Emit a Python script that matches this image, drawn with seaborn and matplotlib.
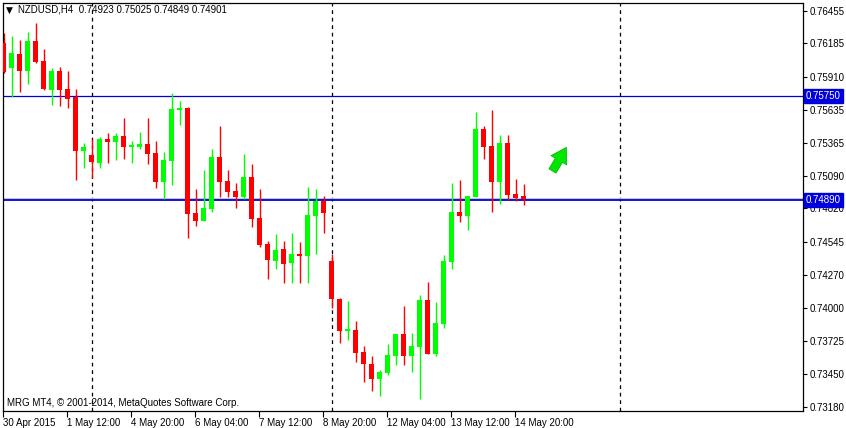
import numpy as np
import pandas as pd
import matplotlib
matplotlib.use("Agg")
import matplotlib.pyplot as plt
import seaborn as sns

# ── data: NZDUSD H4 candles ──────────────────────────────────────────────────
opens = [0.76190, 0.75984, 0.76099, 0.75959, 0.76207, 0.76041, 0.75802, 0.75959,
         0.75810, 0.75744, 0.75297, 0.75264, 0.75198, 0.75396, 0.75372, 0.75421,
         0.75330, 0.75330, 0.75355, 0.75281, 0.75041, 0.75214, 0.75636, 0.75653,
         0.74784, 0.74718, 0.74817, 0.75247, 0.75049, 0.74966, 0.74917, 0.75082,
         0.74743, 0.74528, 0.74387, 0.74487, 0.74371, 0.74445, 0.74429, 0.74759,
         0.74884, 0.74387, 0.74073, 0.73808, 0.73817, 0.73635, 0.73535, 0.73411,
         0.73461, 0.73602, 0.73783, 0.73602, 0.73676, 0.74065, 0.73618, 0.73866,
         0.74379, 0.74793, 0.74759, 0.74917, 0.75479, 0.75338, 0.75041, 0.75363,
         0.74941, 0.74923]
highs = [0.76273, 0.76248, 0.76215, 0.76281, 0.76356, 0.76141, 0.75984, 0.75992,
         0.75959, 0.75810, 0.75363, 0.75396, 0.75413, 0.75446, 0.75446, 0.75570,
         0.75380, 0.75454, 0.75570, 0.75380, 0.75289, 0.75777, 0.75711, 0.75661,
         0.74983, 0.75140, 0.75314, 0.75504, 0.75140, 0.75032, 0.75272, 0.75190,
         0.74983, 0.74553, 0.74611, 0.74553, 0.74619, 0.74544, 0.74999, 0.74983,
         0.74925, 0.74445, 0.74081, 0.74056, 0.73891, 0.73684, 0.73602, 0.73486,
         0.73701, 0.73783, 0.74015, 0.73792, 0.74106, 0.74214, 0.74048, 0.74437,
         0.75032, 0.75057, 0.74925, 0.75620, 0.75504, 0.75636, 0.75429, 0.75429,
         0.75065, 0.75025]
lows = [0.75942, 0.75744, 0.75785, 0.75851, 0.76025, 0.75802, 0.75678, 0.75669,
        0.75653, 0.75057, 0.75156, 0.75074, 0.75156, 0.75198, 0.75223, 0.75231,
        0.75198, 0.75314, 0.75190, 0.74991, 0.74900, 0.75016, 0.75512, 0.74578,
        0.74677, 0.74718, 0.74793, 0.74917, 0.74917, 0.74826, 0.74900, 0.74668,
        0.74503, 0.74238, 0.74321, 0.74205, 0.74205, 0.74205, 0.74205, 0.74445,
        0.74619, 0.73999, 0.73709, 0.73734, 0.73552, 0.73386, 0.73312, 0.73271,
        0.73444, 0.73527, 0.73527, 0.73469, 0.73246, 0.73618, 0.73602, 0.73833,
        0.74321, 0.74710, 0.74644, 0.74917, 0.75231, 0.74793, 0.74859, 0.74892,
        0.74884, 0.74849]
closes = [0.75950, 0.76108, 0.75959, 0.76207, 0.76033, 0.75810, 0.75959, 0.75802,
          0.75727, 0.75297, 0.75330, 0.75206, 0.75396, 0.75372, 0.75421, 0.75330,
          0.75338, 0.75355, 0.75272, 0.75041, 0.75223, 0.75644, 0.75644, 0.74776,
          0.74718, 0.74826, 0.75247, 0.75041, 0.74958, 0.74917, 0.75082, 0.74735,
          0.74520, 0.74396, 0.74478, 0.74362, 0.74445, 0.74429, 0.74768, 0.74884,
          0.74784, 0.74073, 0.73808, 0.73817, 0.73626, 0.73535, 0.73411, 0.73469,
          0.73610, 0.73783, 0.73602, 0.73684, 0.74065, 0.73618, 0.73874, 0.74387,
          0.74793, 0.74759, 0.74925, 0.75479, 0.75330, 0.75041, 0.75363, 0.74933,
          0.74908, 0.74901]

date_labels = ["30 Apr 2015", "1 May 12:00", "4 May 20:00", "6 May 04:00",
               "7 May 12:00", "8 May 20:00", "12 May 04:00", "13 May 12:00",
               "14 May 20:00"]
date_bars = [0, 8, 16, 24, 32, 40, 48, 56, 64]
price_ticks = [0.76455, 0.76185, 0.75910, 0.75635, 0.75365, 0.75090, 0.74820,
               0.74545, 0.74270, 0.74000, 0.73725, 0.73450, 0.73180]
separator_bars = [11, 41, 77]
resist_level = 0.75750
support_level = 0.74890
bid_price = 0.74901

df = pd.DataFrame({"open": opens, "high": highs, "low": lows, "close": closes})
df["bar"] = np.arange(len(df))
df["up"] = df["close"] >= df["open"]

# ── style ────────────────────────────────────────────────────────────────────
sns.set_theme(style="white")
plt.rcParams["font.family"] = ["Liberation Sans", "DejaVu Sans"]

GREEN = "#00FF00"
RED = "#FF0000"
BLUE = "#0000DD"

W, H = 846, 428
fig = plt.figure(figsize=(W / 100, H / 100), dpi=100)
fig.patch.set_facecolor("white")
ax = fig.add_axes([2.7 / W, 1 - 410.5 / H, 800 / W, (410.5 - 2.7) / H])
ax.set_facecolor("white")

# period separators
for b in separator_bars:
    ax.axvline(b, color="black", lw=0.9, ls=(0, (3, 3)), zorder=1)

# bid line + horizontal levels
ax.axhline(bid_price, color="#BBBBBB", lw=1.2, zorder=1)
ax.axhline(resist_level, color=BLUE, lw=0.9, zorder=1)
ax.axhline(support_level, color=BLUE, lw=1.3, zorder=1)

# candles
colors = np.where(df["up"], GREEN, RED)
ax.vlines(df["bar"], df["low"], df["high"], colors=colors, lw=1.0, zorder=2)
body_lo = df[["open", "close"]].min(axis=1)
body_h = (df["close"] - df["open"]).abs().clip(lower=0.00012)
ax.bar(df["bar"], body_h, bottom=body_lo, width=0.62, color=colors,
       linewidth=0, zorder=3)

ax.set_xlim(-0.15, 99.85)
ax.set_ylim(0.73150, 0.76521)

# right price axis
ax.yaxis.tick_right()
ax.set_yticks(price_ticks)
ax.set_yticklabels([f"{v:.5f}" for v in price_ticks])
ax.tick_params(axis="y", right=True, left=False, length=3, width=0.8,
               color="black", labelsize=7, pad=2, labelcolor="black")

# bottom date axis
ax.set_xticks(np.array(date_bars) - 0.1)
ax.set_xticklabels(date_labels, ha="left")
ax.tick_params(axis="x", bottom=True, length=4, width=0.8, color="black",
               labelsize=7, pad=1.5, labelcolor="black")

for sp in ax.spines.values():
    sp.set_color("black")
    sp.set_linewidth(0.9)

# price tags on the right
trans = ax.get_yaxis_transform()
for lvl in [resist_level, support_level]:
    ax.text(1.004, lvl, f"{lvl:.5f}", transform=trans, ha="left", va="center",
            fontsize=7, color="white", zorder=5, clip_on=False,
            bbox=dict(boxstyle="square,pad=0.18", fc=BLUE, ec=BLUE))

# green arrow
ax.annotate("", xy=(70.5, 0.75345), xytext=(68.4, 0.75110),
            arrowprops=dict(arrowstyle="simple,head_length=0.9,head_width=1.1,tail_width=0.5",
                            fc="#00E600", ec="#00B000", lw=0.5),
            zorder=4)

# header and footer texts
fig.text(6 / W, 1 - 10 / H, "▼", fontsize=6.5, va="center", ha="left", color="black",
         family="DejaVu Sans")
fig.text(18 / W, 1 - 10 / H, "NZDUSD,H4  0.74923 0.75025 0.74849 0.74901",
         fontsize=7, va="center", ha="left", color="black")
fig.text(7 / W, 1 - 403 / H, "MRG MT4, © 2001-2014, MetaQuotes Software Corp.",
         fontsize=7, va="center", ha="left", color="black")

fig.savefig("out.png", dpi=100)
